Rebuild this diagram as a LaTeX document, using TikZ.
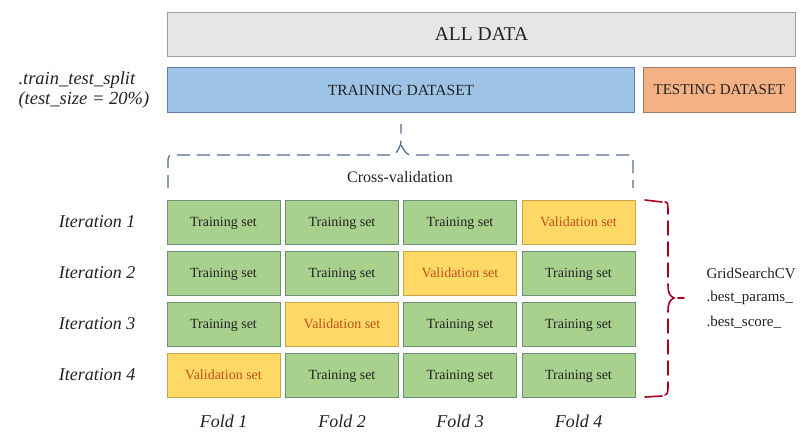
\documentclass[tikz,border=0pt]{standalone}
\usepackage{fontspec}
\setmainfont{Liberation Serif}
\definecolor{allfill}{HTML}{E7E6E6}
\definecolor{allborder}{HTML}{98A2AE}
\definecolor{trainfill}{HTML}{9DC3E6}
\definecolor{trainborder}{HTML}{5F7FA8}
\definecolor{testfill}{HTML}{F4B183}
\definecolor{testborder}{HTML}{9C7B68}
\definecolor{greenfill}{HTML}{A9D18E}
\definecolor{greenborder}{HTML}{6E8F78}
\definecolor{yellowfill}{HTML}{FFD966}
\definecolor{yellowborder}{HTML}{C9A64A}
\definecolor{valtext}{HTML}{C0501A}
\definecolor{bracecol}{HTML}{4F6F94}
\definecolor{redbrace}{HTML}{A50021}
\definecolor{txt}{HTML}{222222}
\tikzset{
  bar/.style={draw, line width=1pt, minimum height=44pt, inner sep=0pt, text=txt, text depth=0pt},
  cell/.style={draw, line width=1pt, minimum width=113pt, minimum height=44pt, inner sep=0pt, text depth=0pt, font=\fontsize{14}{16}\selectfont},
  trainset/.style={cell, fill=greenfill, draw=greenborder, text=txt},
  valset/.style={cell, fill=yellowfill, draw=yellowborder, text=valtext},
  itlabel/.style={anchor=east, font=\fontsize{18}{20}\selectfont\itshape, text=txt},
  foldlabel/.style={font=\fontsize{18}{20}\selectfont\itshape, text=txt},
  gslabel/.style={anchor=west, font=\fontsize{15}{17}\selectfont, text=txt},
  bluebr/.style={draw=bracecol, line width=1.3pt, dash pattern=on 13pt off 7pt, rounded corners=4pt},
  redseg/.style={draw=redbrace, line width=1.6pt, line cap=round}
}
\begin{document}
\begin{tikzpicture}[x=1pt,y=-1pt]
\useasboundingbox (0,0) rectangle (801,432);
% top bars
\node[bar, fill=allfill, draw=allborder, minimum width=628pt, anchor=north west, font=\fontsize{19.5}{21}\selectfont] (all) at (167,12) {ALL DATA};
\node[bar, fill=trainfill, draw=trainborder, minimum width=467pt, minimum height=45pt, anchor=north west, font=\fontsize{15.5}{17}\selectfont] (train) at (167,67) {TRAINING DATASET};
\node[bar, fill=testfill, draw=testborder, minimum width=152pt, minimum height=45pt, anchor=north west, font=\fontsize{15}{17}\selectfont] (test) at (643,67) {TESTING DATASET};
% split label
\node[anchor=west, align=left, font=\fontsize{18.5}{19.5}\selectfont\itshape, text=txt] (split) at (15,90) {.train\_test\_split\\(test\_size = 20\%)};
% blue brace
\draw[bluebr] (168,188) -- (168,155) -- (395,155) -- (401,145) -- (401,124);
\draw[bluebr] (401,145) -- (407,155) -- (633,155) -- (633,188);
\node[font=\fontsize{16}{18}\selectfont, text=txt] (cv) at (400,177) {Cross-validation};
% grid
\foreach \r/\y in {1/222,2/273,3/324,4/375}{
  \node[itlabel] (it\r) at (139,\y) {Iteration \r};
}
\foreach \c/\x in {1/223.5,2/342,3/460,4/578.5}{
  \foreach \r/\y in {1/222,2/273,3/324,4/375}{
    \pgfmathtruncatemacro{\s}{\c+\r}
    \ifnum\s=5
      \node[valset] (c\r\c) at (\x,\y) {Validation set};
    \else
      \node[trainset] (c\r\c) at (\x,\y) {Training set};
    \fi
  }
  \node[foldlabel] (f\c) at (\x,421) {Fold \c};
}
% red brace, drawn dash by dash
\draw[redseg] (645,200) -- (662,202);
\draw[redseg] (665,202) .. controls (668,202) and (668,204) .. (668,214);
\foreach \ya/\yb in {221/235,242/256,263/277}{
  \draw[redseg] (668,\ya) -- (668,\yb);
}
\draw[redseg] (668,284) .. controls (668,294) and (670,296) .. (674,298) .. controls (670,300) and (668,302) .. (668,312);
\foreach \ya/\yb in {319/333,340/354,361/375}{
  \draw[redseg] (668,\ya) -- (668,\yb);
}
\draw[redseg] (668,382) .. controls (668,392) and (668,394) .. (665,395);
\draw[redseg] (662,396) -- (645,397);
\coordinate (tipstart) at (678,298);
\coordinate (tipend) at (684,298);
\draw[redseg] (tipstart) -- (tipend);
\node[gslabel] (gs) at (703,273) {GridSearchCV};
\node[gslabel] (bp) at (703,298) {.best\_params\_};
\node[gslabel] (bs) at (703,322) {.best\_score\_};
\end{tikzpicture}
\end{document}
